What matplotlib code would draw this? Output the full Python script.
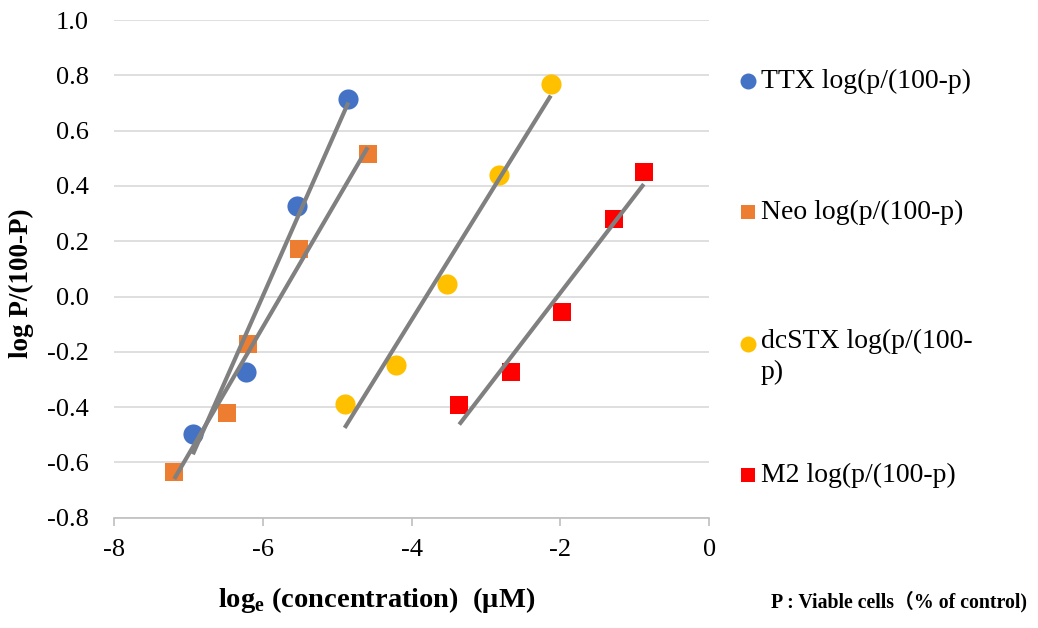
import matplotlib.pyplot as plt
from matplotlib.lines import Line2D
import numpy as np

plt.rcParams['font.family'] = ['Liberation Serif', 'Noto Sans CJK JP']

# log_e(concentration) and log P/(100-P)
ttx_x = [-4.85, -5.54, -6.23, -6.94]
ttx_y = [0.716, 0.329, -0.272, -0.498]

neo_x = [-4.59, -5.51, -6.20, -6.48, -7.19]
neo_y = [0.516, 0.172, -0.172, -0.423, -0.633]

dcstx_x = [-2.13, -2.83, -3.52, -4.21, -4.90]
dcstx_y = [0.770, 0.441, 0.046, -0.247, -0.387]

m2_x = [-0.88, -1.28, -1.98, -2.67, -3.36]
m2_y = [0.451, 0.282, -0.056, -0.274, -0.393]

series = [
    ("TTX log(p/(100-p)", ttx_x, ttx_y, "o", "#4472C4", 14.5),
    ("Neo log(p/(100-p)", neo_x, neo_y, "s", "#ED7D31", 13),
    ("dcSTX log(p/(100-\np)", dcstx_x, dcstx_y, "o", "#FFC000", 14.5),
    ("M2 log(p/(100-p)", m2_x, m2_y, "s", "#FF0000", 13),
]

fig = plt.figure(figsize=(10.38, 6.28), dpi=100)
ax = fig.add_axes([0.1098, 0.1756, 0.5735, 0.7924])

for name, xs, ys, mk, col, ms in series:
    ax.plot(xs, ys, linestyle="none", marker=mk, color=col, markersize=ms,
            markeredgewidth=0, zorder=3)

# linear trend lines (gray), drawn over the markers like Excel does
for name, xs, ys, mk, col, ms in series:
    k, b = np.polyfit(xs, ys, 1)
    xx = np.array([min(xs), max(xs)])
    ax.plot(xx, k * xx + b, color="#808080", linewidth=3, zorder=4,
            solid_capstyle="butt")

ax.set_xlim(-8, 0)
ax.set_ylim(-0.8, 1.0)
ax.set_xticks(np.arange(-8, 1, 2))
ax.set_yticks(np.arange(-0.8, 1.01, 0.2))
ax.set_xticklabels([f"{v:d}" for v in range(-8, 1, 2)])
ax.set_yticklabels([f"{v:.1f}".replace("-0.0", "0.0") for v in np.arange(-0.8, 1.01, 0.2)])

ax.grid(axis="y", color="#d9d9d9", linewidth=1.2)
ax.set_axisbelow(True)
for s in ["left", "right", "top"]:
    ax.spines[s].set_visible(False)
ax.spines["bottom"].set_color("#bfbfbf")
ax.spines["bottom"].set_linewidth(1.2)
ax.tick_params(axis="y", length=0, pad=18, labelsize=19)
ax.tick_params(axis="x", direction="out", length=6, color="#bfbfbf",
               width=1.2, pad=9, labelsize=19)

ax.set_ylabel("log P/(100-P)", fontsize=19.5, fontweight="bold")
ax.yaxis.set_label_coords(-(114 - 34) / 595.3, (517.7 - 283) / 497.7)

fig.text(218 / 1038, 0.033, r"log$_\mathregular{e}$ (concentration)  (μM)",
         fontsize=20.5, fontweight="bold", ha="left", va="baseline")
fig.text(771 / 1038, 0.033, "P : Viable cells（% of control)",
         fontsize=14.3, fontweight="bold", ha="left", va="baseline")

# legend on the right
leg_y = [1 - 81 / 628, 1 - 212 / 628, 1 - 344 / 628, 1 - 475 / 628]
for (name, xs, ys, mk, col, ms), yy in zip(series, leg_y):
    fig.add_artist(Line2D([748 / 1038], [yy], marker=mk, color=col,
                          markersize=ms - 3, markeredgewidth=0,
                          linestyle="none", transform=fig.transFigure))
    if "\n" in name:
        fig.text(761 / 1038, yy + 15 / 628, name, fontsize=20, ha="left",
                 va="top", linespacing=1.3, transform=fig.transFigure)
    else:
        fig.text(761 / 1038, yy, name, fontsize=20, ha="left", va="center",
                 transform=fig.transFigure)

fig.savefig("out.png", dpi=100)
